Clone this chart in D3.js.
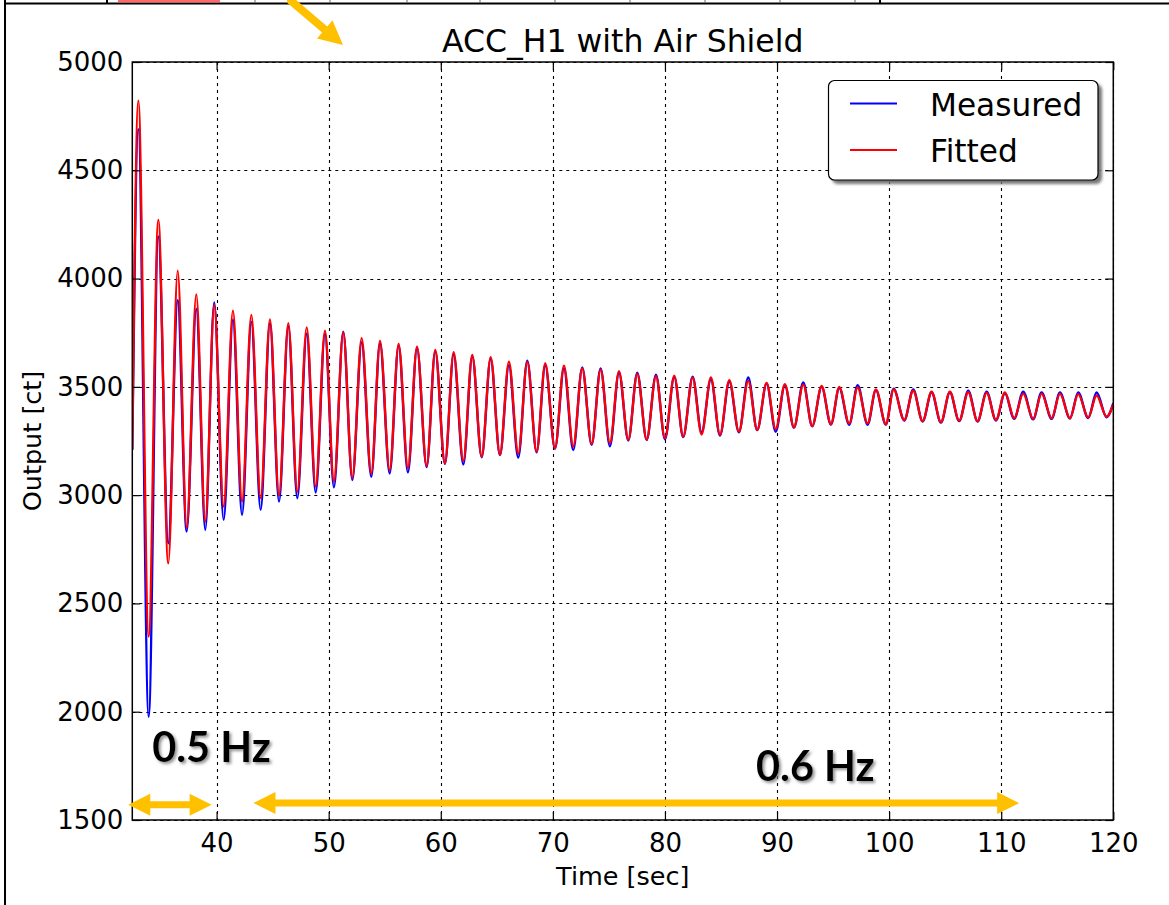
<!DOCTYPE html>
<html>
<head>
<meta charset="utf-8">
<script src="https://cdn.jsdelivr.net/npm/d3@7"></script>
<style>
  html, body { margin: 0; padding: 0; background: #fff; }
  svg { display: block; }
</style>
</head>
<body>
<svg id="chart" width="1169" height="905"></svg>
<script>
// ---------------- DATA ----------------
const title = "ACC_H1 with Air Shield";
const xLabel = "Time [sec]";
const yLabel = "Output [ct]";
const seriesNames = ["Measured", "Fitted"];
const xTicks = [40, 50, 60, 70, 80, 90, 100, 110, 120];
const yTicks = [1500, 2000, 2500, 3000, 3500, 4000, 4500, 5000];
const xDomain = [32.48, 120];
const yDomain = [1500, 5000];

const startPoint = { t: 32.48, measured: 3210, fitted: 3210 };
const endPoint = { t: 120, measured: 3425, fitted: 3420 };

const peakTimes = [33.02, 34.80, 36.53, 38.19, 39.79, 41.46, 43.10, 44.76, 46.40, 48.04,
  49.67, 51.30, 52.94, 54.58, 56.24, 57.88, 59.51, 61.15, 62.81, 64.45,
  66.08, 67.72, 69.32, 70.99, 72.62, 74.26, 75.90, 77.53, 79.20, 80.83,
  82.47, 84.10, 85.74, 87.43, 89.07, 90.70, 92.34, 93.98, 95.55, 97.19,
  98.82, 100.40, 102.15, 103.79, 105.42, 107.06, 108.70, 110.33, 111.96, 113.60,
  115.24, 116.87, 118.51];
const fittedPeaks = [4821, 4271, 4037, 3927, 3878, 3852, 3832, 3812, 3794, 3775,
  3760, 3751, 3725, 3712, 3698, 3686, 3671, 3660, 3647, 3637,
  3616, 3615, 3609, 3598, 3585, 3580, 3573, 3560, 3550, 3552,
  3543, 3544, 3531, 3528, 3518, 3512, 3510, 3504, 3500, 3497,
  3488, 3488, 3482, 3478, 3478, 3475, 3472, 3474, 3469, 3469,
  3469, 3466, 3460];
const measuredPeaks = [4690, 4195, 3900, 3860, 3890, 3810, 3800, 3795, 3780, 3745,
  3745, 3755, 3705, 3700, 3690, 3680, 3665, 3650, 3640, 3630,
  3600, 3621, 3600, 3585, 3590, 3585, 3565, 3565, 3556, 3545,
  3547, 3535, 3525, 3543, 3515, 3508, 3520, 3500, 3495, 3508,
  3485, 3492, 3488, 3475, 3475, 3482, 3478, 3470, 3478, 3474,
  3474, 3474, 3474];

const troughTimes = [33.94, 35.69, 37.33, 38.99, 40.63, 42.27, 43.93, 45.57, 47.20, 48.84,
  50.47, 52.11, 53.80, 55.44, 57.07, 58.74, 60.37, 62.01, 63.65, 65.28,
  66.91, 68.55, 70.19, 71.82, 73.46, 75.09, 76.73, 78.37, 80.00, 81.63,
  83.27, 84.91, 86.60, 88.23, 89.88, 91.51, 93.14, 94.81, 96.44, 98.08,
  99.71, 101.35, 102.99, 104.62, 106.25, 107.89, 109.53, 111.16, 112.85, 114.50,
  116.13, 117.76, 119.40];
const fittedTroughs = [2347, 2685, 2850, 2878, 2947, 2970, 2986, 3000, 3016, 3040,
  3063, 3080, 3100, 3115, 3125, 3135, 3147, 3158, 3178, 3186,
  3192, 3201, 3216, 3225, 3236, 3240, 3255, 3257, 3263, 3270,
  3280, 3278, 3293, 3301, 3305, 3313, 3319, 3328, 3331, 3332,
  3328, 3347, 3342, 3337, 3344, 3342, 3347, 3355, 3352, 3355,
  3355, 3358, 3362];
const measuredTroughs = [1977, 2778, 2832, 2840, 2886, 2909, 2932, 2970, 2986, 3012,
  3036, 3070, 3085, 3100, 3105, 3130, 3145, 3142, 3175, 3185,
  3174, 3198, 3214, 3208, 3232, 3226, 3252, 3255, 3258, 3268,
  3290, 3275, 3290, 3300, 3293, 3312, 3318, 3326, 3325, 3325,
  3326, 3345, 3340, 3335, 3342, 3340, 3345, 3352, 3350, 3352,
  3354, 3356, 3360];

// annotations (in data units)
const bandLabels = ["0.5 Hz", "0.6 Hz"];
const bandLabelPos = [{ t: 34.25, v: 1769 }, { t: 88.12, v: 1680 }];
const bandArrows = [{ t0: 32.12, t1: 39.56, v: 1570 }, { t0: 43.29, t1: 111.6, v: 1578 }];

// ---------------- BUILD ----------------
function buildSeries(peaks, troughs, key) {
  const pts = [{ t: startPoint.t, v: startPoint[key] }];
  for (let i = 0; i < peakTimes.length; i++) {
    pts.push({ t: peakTimes[i], v: peaks[i] });
    pts.push({ t: troughTimes[i], v: troughs[i] });
  }
  pts.push({ t: endPoint.t, v: endPoint[key] });
  return pts;
}
const measured = buildSeries(measuredPeaks, measuredTroughs, "measured");
const fitted = buildSeries(fittedPeaks, fittedTroughs, "fitted");

const svg = d3.select("#chart");
const L = 132.3, R = 1113.3, T = 62, B = 820;
const x = d3.scaleLinear().domain(xDomain).range([L, R]);
const y = d3.scaleLinear().domain(yDomain).range([B, T]);
const FONT = "'DejaVu Sans', sans-serif";

const defs = svg.append("defs");
defs.append("clipPath").attr("id", "plotclip")
  .append("rect").attr("x", L).attr("y", T).attr("width", R - L).attr("height", B - T);
const sh = defs.append("filter").attr("id", "txtshadow").attr("x", "-10%").attr("y", "-10%").attr("width", "130%").attr("height", "140%");
sh.append("feDropShadow").attr("dx", 2).attr("dy", 2).attr("stdDeviation", 1.5).attr("flood-color", "#777").attr("flood-opacity", 0.8);
const lsh = defs.append("filter").attr("id", "legshadow").attr("x", "-10%").attr("y", "-10%").attr("width", "130%").attr("height", "140%");
lsh.append("feGaussianBlur").attr("stdDeviation", 1.5);

// slide decoration: frame and cropped strip at the top
svg.append("line").attr("x1", 5).attr("x2", 1169).attr("y1", 3.5).attr("y2", 3.5).attr("stroke", "#000").attr("stroke-width", 2);
svg.append("line").attr("x1", 5).attr("x2", 5).attr("y1", 0).attr("y2", 905).attr("stroke", "#000").attr("stroke-width", 2);
[107, 880].forEach(px => svg.append("line").attr("x1", px).attr("x2", px).attr("y1", 0).attr("y2", 4).attr("stroke", "#000").attr("stroke-width", 2));
[255, 330, 407, 480, 555, 630, 705, 780, 855].forEach(px => svg.append("line").attr("x1", px).attr("x2", px).attr("y1", 0).attr("y2", 2.5).attr("stroke", "#666").attr("stroke-width", 1));
svg.append("rect").attr("x", 118).attr("y", 0).attr("width", 102).attr("height", 2.5).attr("fill", "#f44").attr("opacity", 0.8);

// grid
const grid = svg.append("g").attr("stroke", "#000").attr("stroke-width", 1.1).attr("stroke-dasharray", "3,4");
grid.selectAll(".gx").data(xTicks).join("line")
  .attr("x1", d => Math.round(x(d)) + 0.5).attr("x2", d => Math.round(x(d)) + 0.5)
  .attr("y1", T).attr("y2", B);
grid.selectAll(".gy").data(yTicks).join("line")
  .attr("x1", L).attr("x2", R)
  .attr("y1", d => Math.round(y(d)) + 0.5).attr("y2", d => Math.round(y(d)) + 0.5);

// lines
const line = d3.line().x(d => x(d.t)).y(d => y(d.v)).curve(d3.curveMonotoneX);
const plot = svg.append("g").attr("clip-path", "url(#plotclip)");
plot.append("path").datum(measured).attr("d", line).attr("fill", "none").attr("stroke", "#0000ff").attr("stroke-width", 2.4).attr("stroke-linejoin", "round");
plot.append("path").datum(fitted).attr("d", line).attr("fill", "none").attr("stroke", "#ff0000").attr("stroke-width", 2.3).attr("stroke-linejoin", "round");

// axes with inward ticks on all four sides
const tickLen = 8;
const axB = svg.append("g").attr("transform", `translate(0,${B})`)
  .call(d3.axisBottom(x).tickValues(xTicks).tickSize(-tickLen).tickPadding(14).tickFormat(d3.format("d")));
const axT = svg.append("g").attr("transform", `translate(0,${T})`)
  .call(d3.axisTop(x).tickValues(xTicks).tickSize(-tickLen).tickFormat(""));
const axL = svg.append("g").attr("transform", `translate(${L},0)`)
  .call(d3.axisLeft(y).tickValues(yTicks).tickSize(-tickLen).tickPadding(9).tickFormat(d3.format("d")));
const axR = svg.append("g").attr("transform", `translate(${R},0)`)
  .call(d3.axisRight(y).tickValues(yTicks).tickSize(-tickLen).tickFormat(""));
[axB, axT, axL, axR].forEach(a => {
  a.select(".domain").remove();
  a.selectAll(".tick line").attr("stroke", "#000").attr("stroke-width", 1.2);
  a.selectAll("text").attr("font-family", FONT).attr("font-size", 26).attr("fill", "#000");
});
axB.selectAll("text").attr("dy", "0.71em");

// frame
svg.append("rect").attr("x", L).attr("y", T).attr("width", R - L).attr("height", B - T)
  .attr("fill", "none").attr("stroke", "#000").attr("stroke-width", 1.5);

// title and axis labels
svg.append("text").attr("x", (L + R) / 2).attr("y", 52).attr("text-anchor", "middle")
  .attr("font-family", FONT).attr("font-size", 31.5).text(title);
svg.append("text").attr("x", (L + R) / 2).attr("y", 885).attr("text-anchor", "middle")
  .attr("font-family", FONT).attr("font-size", 25.5).text(xLabel);
svg.append("text").attr("transform", `translate(41,${(T + B) / 2}) rotate(-90)`).attr("text-anchor", "middle")
  .attr("font-family", FONT).attr("font-size", 25.5).text(yLabel);

// legend
const lg = svg.append("g");
lg.append("rect").attr("x", 832).attr("y", 84).attr("width", 270).attr("height", 100).attr("rx", 6)
  .attr("fill", "#777").attr("filter", "url(#legshadow)");
lg.append("rect").attr("x", 828.5).attr("y", 80.5).attr("width", 269.5).attr("height", 99.5).attr("rx", 6)
  .attr("fill", "#fff").attr("stroke", "#000").attr("stroke-width", 1.2);
const legColors = ["#0000ff", "#ff0000"];
const legY = [103.5, 150];
seriesNames.forEach((n, i) => {
  lg.append("line").attr("x1", 850).attr("x2", 897).attr("y1", legY[i]).attr("y2", legY[i])
    .attr("stroke", legColors[i]).attr("stroke-width", 1.8);
  lg.append("text").attr("x", 930).attr("y", legY[i] + 12).attr("font-family", FONT)
    .attr("font-size", 31.2).text(n);
});

// annotations: orange arrows and band labels
const ORANGE = "#FFC000";
function dblArrow(x0, x1, yy) {
  const hl = 22, hw = 11, sw = 3.5;
  return `M${x0},${yy} L${x0 + hl},${yy - hw} L${x0 + hl},${yy - sw} L${x1 - hl},${yy - sw} L${x1 - hl},${yy - hw} L${x1},${yy} L${x1 - hl},${yy + hw} L${x1 - hl},${yy + sw} L${x0 + hl},${yy + sw} L${x0 + hl},${yy + hw} Z`;
}
svg.selectAll(".band").data(bandArrows).join("path")
  .attr("d", d => dblArrow(x(d.t0), x(d.t1), y(d.v))).attr("fill", ORANGE);
svg.selectAll(".bandlbl").data(bandLabels).join("text")
  .attr("x", (d, i) => x(bandLabelPos[i].t)).attr("y", (d, i) => y(bandLabelPos[i].v))
  .attr("font-family", "Lato, 'Open Sans', sans-serif").attr("font-weight", 700).attr("font-size", 41.5)
  .attr("fill", "#000").attr("filter", "url(#txtshadow)").text(d => d);

// top diagonal arrow (slide callout)
(function () {
  const x0 = 290, y0 = 0, x1 = 343, y1 = 45;
  const ang = Math.atan2(y1 - y0, x1 - x0);
  const hl = 24, hw = 12, sw = 4;
  const ux = Math.cos(ang), uy = Math.sin(ang), nx = -uy, ny = ux;
  const bx = x1 - ux * hl, by = y1 - uy * hl;
  const p = [
    [x0 + nx * sw, y0 + ny * sw], [bx + nx * sw, by + ny * sw], [bx + nx * hw, by + ny * hw], [x1, y1],
    [bx - nx * hw, by - ny * hw], [bx - nx * sw, by - ny * sw], [x0 - nx * sw - ux * 10, y0 - ny * sw - uy * 10]
  ];
  svg.append("path").attr("d", "M" + p.map(q => q.join(",")).join("L") + "Z").attr("fill", ORANGE);
})();
</script>
</body>
</html>
